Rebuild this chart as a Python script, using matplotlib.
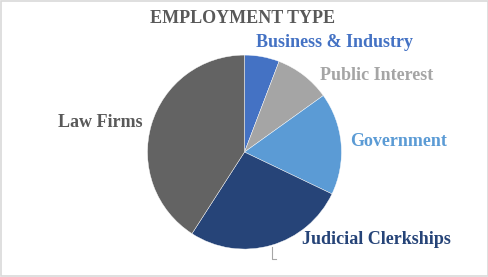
import matplotlib
matplotlib.use('Agg')
import matplotlib.pyplot as plt
from matplotlib.patches import Rectangle

categories = ['Business & Industry', 'Public Interest', 'Government', 'Judicial Clerkships', 'Law Firms']
shares = [5.8, 9.3, 17.0, 27.0, 40.9]
colors = ['#4472C4', '#A5A5A5', '#5B9BD5', '#264478', '#636363']
label_colors = ['#4472C4', '#A5A5A5', '#5B9BD5', '#264478', '#595959']
# label centres in pie units (radius = 1)
label_pos = [(0.93, 1.13), (1.36, 0.79), (1.59, 0.11), (1.36, -0.90), (-1.49, 0.31)]

fig = plt.figure(figsize=(4.89, 2.77), dpi=100)
fig.patch.set_facecolor('white')
fig.patches.append(Rectangle((0.002, 0.004), 0.996, 0.992, transform=fig.transFigure,
                             fill=False, edgecolor='#D9D9D9', linewidth=1.2))

ax = fig.add_axes([0.5 - 0.1984, 0.451 - 0.3502, 0.3967, 0.7004])
ax.pie(shares, colors=colors, startangle=90, counterclock=False, radius=1,
       wedgeprops=dict(linewidth=0.3, edgecolor='white'))
ax.set_xlim(-1, 1)
ax.set_ylim(-1, 1)
ax.set_aspect('equal')
ax.axis('off')

font = dict(family='Liberation Serif', weight='bold', fontsize=13)
for name, (x, y), c in zip(categories, label_pos, label_colors):
    ax.text(x, y, name, color=c, ha='center', va='center', clip_on=False, **font)

# leader line for the clerkships label
ax.plot([0.28, 0.28, 0.33], [-0.98, -1.10, -1.10], color='#A6A6A6', linewidth=0.8, clip_on=False)

fig.text(0.497, 0.932, 'EMPLOYMENT TYPE', color='#595959', ha='center', va='center', **font)

fig.savefig('out.png', dpi=100)
